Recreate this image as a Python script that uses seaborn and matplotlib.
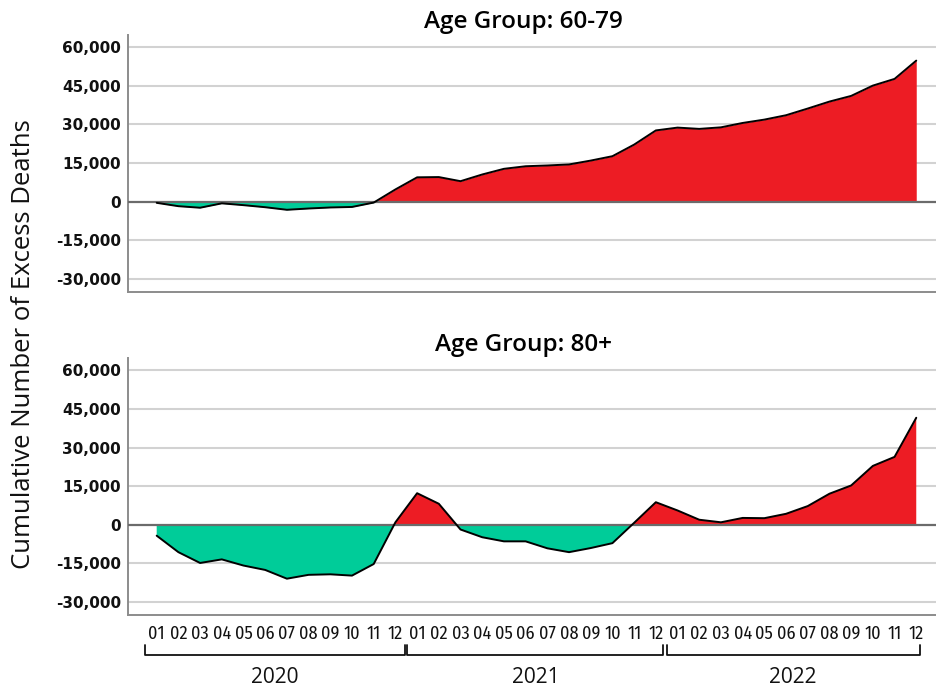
import numpy as np
import pandas as pd
import seaborn as sns
import matplotlib.pyplot as plt
from matplotlib.transforms import blended_transform_factory

# ---- data -----------------------------------------------------------------
years = ["2020", "2021", "2022"]
months = ["01", "02", "03", "04", "05", "06", "07", "08", "09", "10", "11", "12"]

age_60_79 = [
    -500, -1800, -2400, -700, -1400, -2200, -3200, -2700, -2300, -2100, -400, 4700,
    9400, 9500, 7900, 10500, 12700, 13700, 14000, 14400, 15900, 17600, 22100, 27600,
    28700, 28200, 28800, 30500, 31800, 33500, 36100, 38800, 41000, 45000, 47600, 54700,
]
age_80_plus = [
    -4200, -10600, -14800, -13400, -15800, -17500, -20900, -19400, -19200, -19700, -15200, 1000,
    12300, 8200, -1800, -4800, -6400, -6400, -9100, -10600, -9000, -7100, 800, 8800,
    5600, 2000, 1000, 2700, 2600, 4300, 7300, 12100, 15300, 22900, 26400, 41600,
]
panel_titles = ["Age Group: 60-79", "Age Group: 80+"]
y_ticks = [-30000, -15000, 0, 15000, 30000, 45000, 60000]

# ---- style ------------------------------------------------------------------
sns.set_theme(style="white")
plt.rcParams["font.family"] = ["Open Sans", "DejaVu Sans"]
MONTH_FONT = ["Fira Sans Condensed", "Open Sans", "DejaVu Sans"]

POS = "#ED1C24"
NEG = "#00CC99"
INK = "#111111"

df = pd.DataFrame({
    "idx": np.arange(len(age_60_79)),
    "60-79": age_60_79,
    "80+": age_80_plus,
})
month_labels = months * len(years)

fig = plt.figure(figsize=(9.36, 6.89), dpi=100)
ax_top = fig.add_axes([0.1368, 0.5766, 0.8632, 0.3732])
ax_bot = fig.add_axes([0.1368, 0.1074, 0.8632, 0.3730])

for ax, col, title in zip([ax_top, ax_bot], ["60-79", "80+"], panel_titles):
    x = df["idx"].to_numpy(dtype=float)
    y = df[col].to_numpy(dtype=float)
    # excess (positive) in red, deficit (negative) in green
    ax.fill_between(x, y, 0, where=y >= 0, interpolate=True, color=POS, lw=0, zorder=2)
    ax.fill_between(x, y, 0, where=y <= 0, interpolate=True, color=NEG, lw=0, zorder=2)
    sns.lineplot(data=df, x="idx", y=col, ax=ax, color="black", lw=1.4, zorder=4)

    ax.set_xlim(-1.32, 35.91)
    ax.set_ylim(-35000, 64800)
    ax.set_yticks(y_ticks)
    ax.set_yticklabels([f"{v:,}" for v in y_ticks], fontfamily="DejaVu Sans",
                       fontweight="bold", fontsize=11, color=INK)
    ax.tick_params(axis="y", length=0, pad=5)
    for v in y_ticks:
        if v == 0:
            ax.axhline(v, color="#6b6b6b", lw=1.6, zorder=3)
        else:
            ax.axhline(v, color="#d2d2d2", lw=1.5, zorder=1)
    for s in ["top", "right"]:
        ax.spines[s].set_visible(False)
    for s in ["left", "bottom"]:
        ax.spines[s].set_color("#8c8c8c")
        ax.spines[s].set_linewidth(1.4)
    ax.set_xlabel("")
    ax.set_ylabel("")
    ax.set_title(title, fontsize=17.5, fontweight=600, color="black", pad=4.7, x=0.489)

ax_top.set_xticks([])
ax_bot.set_xticks(np.arange(len(month_labels)))
ax_bot.set_xticklabels(month_labels, fontfamily=MONTH_FONT, fontsize=13, color=INK)
ax_bot.tick_params(axis="x", length=0, pad=7)

# year brackets beneath the month labels
tr = blended_transform_factory(ax_bot.transData, fig.transFigure)
spans = [(-0.55, 11.42), (11.55, 23.35), (23.5, 35.15)]
y_line, y_tip = 0.0493, 0.0639
for (a, b), yr in zip(spans, years):
    ax_bot.plot([a, a, b, b], [y_tip, y_line, y_line, y_tip], transform=tr,
                color=INK, lw=1.3, clip_on=False)
    ax_bot.text((a + b) / 2, 0.0174, yr, transform=tr, ha="center", va="center",
                fontsize=15, fontweight=500, color=INK)

fig.text(0.025, 0.5, "Cumulative Number of Excess Deaths", rotation=90,
         ha="center", va="center", fontsize=18.5, fontweight=500, color=INK)

fig.savefig("out.png", dpi=100)
